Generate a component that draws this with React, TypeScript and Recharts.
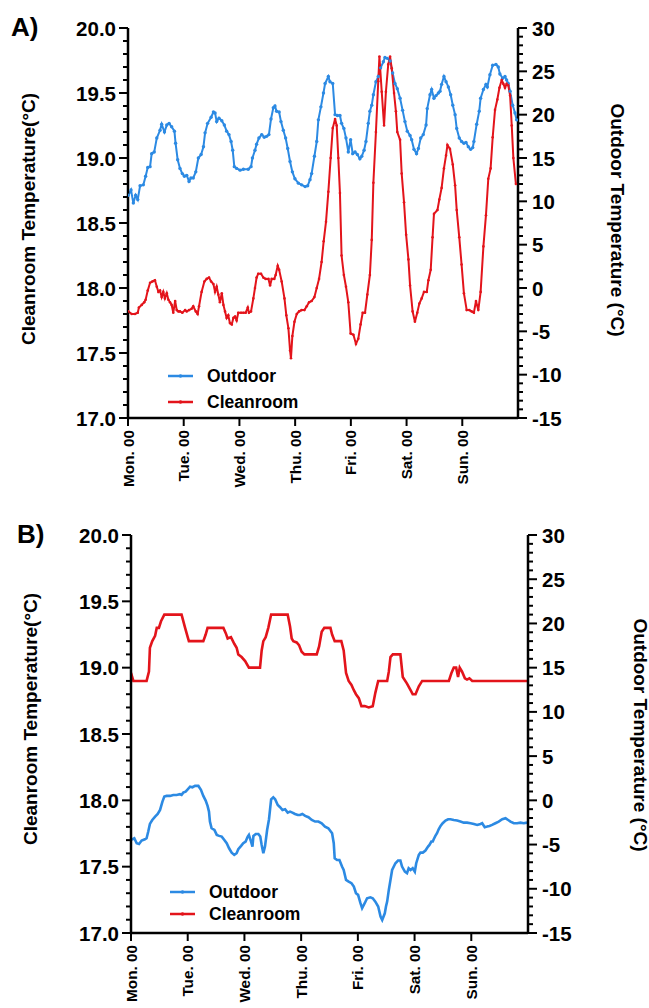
import React from 'react';
import { LineChart, Line, XAxis, YAxis } from 'recharts';

// ---------- data ----------
const dayTicks = [0, 24, 48, 72, 96, 120, 144];
const dayLabels = ['Mon. 00', 'Tue. 00', 'Wed. 00', 'Thu. 00', 'Fri. 00', 'Sat. 00', 'Sun. 00'];
const leftTicks = Array.from({ length: 31 }, (_, i) => Math.round((17 + i * 0.1) * 10) / 10);
const rightTicks = Array.from({ length: 46 }, (_, i) => -15 + i);

// Panel A: [hour, °C]
const outdoorA: [number, number][] = [[0.1,10.7],[1.3,11.3],[2.3,9.8],[3.3,10.7],[4.2,10.2],[5.2,11.8],[6.6,11.9],[7.6,12.9],[8.5,13.9],[9.5,14.0],[10.2,15.5],[11.3,15.7],[12.4,17.3],[13.8,18.2],[14.5,18.9],[15.7,18.0],[16.7,18.8],[17.7,19.0],[18.8,18.6],[20.0,18.1],[20.5,16.7],[21.4,14.8],[22.4,13.8],[23.4,13.2],[24.3,12.9],[25.3,13.0],[26.3,12.3],[27.1,12.7],[28.1,12.7],[29.2,13.4],[30.3,15.0],[31.5,15.4],[32.5,16.3],[33.2,17.9],[34.3,19.0],[35.8,19.7],[36.8,20.3],[37.5,20.2],[38.2,19.2],[39.2,19.6],[40.4,19.3],[41.5,18.8],[42.5,18.1],[43.5,17.7],[44.4,16.9],[45.1,15.9],[45.8,14.0],[46.8,13.8],[48.3,13.6],[49.7,13.7],[51.8,13.7],[53.0,14.0],[53.6,15.0],[54.7,15.9],[55.4,16.6],[56.4,17.3],[57.6,17.7],[58.7,17.4],[59.7,17.5],[60.7,17.7],[61.6,19.5],[62.6,20.8],[63.3,21.0],[64.0,20.4],[65.1,20.3],[65.9,19.2],[66.9,18.2],[67.9,17.3],[68.8,16.1],[69.8,14.6],[70.8,13.4],[71.9,12.6],[73.4,12.1],[74.8,11.9],[76.3,11.7],[77.4,11.8],[78.4,12.5],[79.1,13.2],[80.3,15.2],[81.3,16.9],[82.0,19.4],[83.1,20.9],[84.2,22.5],[84.9,23.6],[86.3,24.4],[87.0,23.8],[88.2,23.6],[89.2,20.0],[90.2,19.9],[91.3,19.9],[92.0,19.0],[93.0,18.4],[93.9,17.3],[94.9,15.7],[95.9,17.1],[96.8,15.5],[97.8,15.7],[98.8,15.4],[99.9,14.9],[100.7,15.2],[101.7,15.9],[102.5,16.9],[103.5,19.0],[104.2,20.4],[105.0,21.1],[105.7,22.3],[106.8,23.8],[107.8,24.4],[108.8,25.4],[110.0,26.1],[110.7,26.6],[111.7,26.5],[112.9,26.2],[114.0,24.8],[115.0,23.6],[116.0,23.0],[117.2,21.9],[118.3,20.5],[119.3,19.2],[120.3,18.1],[121.5,17.6],[122.2,17.1],[123.2,16.0],[124.3,15.5],[125.1,16.1],[126.1,17.3],[127.2,17.7],[128.4,18.8],[128.9,20.7],[130.1,22.3],[130.8,22.9],[131.8,21.9],[132.7,22.2],[133.7,22.5],[134.4,22.7],[135.1,23.5],[136.1,24.4],[137.0,23.8],[138.0,23.2],[139.0,22.3],[139.9,21.1],[140.9,20.0],[141.6,18.4],[142.7,17.3],[143.7,16.9],[144.7,16.7],[145.6,16.8],[146.6,16.3],[147.6,16.0],[148.5,16.2],[149.0,16.9],[150.2,18.9],[151.3,20.4],[151.9,21.9],[153.1,22.9],[154.2,23.5],[154.8,23.2],[155.9,24.6],[157.1,25.7],[158.5,25.8],[159.5,25.5],[160.2,24.7],[161.4,24.2],[162.4,24.4],[163.1,24.0],[163.8,23.6],[164.6,22.7],[165.7,21.1],[166.7,20.2],[167.4,19.4]];

const cleanroomA: [number, number][] = [[0.1,17.82],[1.6,17.80],[3.0,17.80],[4.2,17.81],[4.7,17.85],[5.9,17.87],[7.0,17.89],[7.6,17.91],[8.5,17.98],[9.5,18.04],[10.5,18.05],[11.6,18.06],[12.4,18.01],[13.1,17.97],[13.8,17.98],[14.5,17.93],[15.2,17.97],[15.9,17.92],[16.7,17.96],[17.4,17.91],[18.1,17.89],[18.8,17.87],[19.5,17.81],[20.3,17.90],[21.0,17.83],[21.7,17.82],[22.4,17.82],[23.4,17.81],[24.6,17.83],[25.3,17.82],[26.3,17.83],[27.4,17.84],[28.1,17.86],[29.2,17.82],[30.0,17.80],[30.6,17.86],[31.7,17.97],[32.9,18.05],[33.9,18.07],[34.9,18.08],[35.8,18.05],[36.8,18.03],[37.5,17.97],[38.2,18.01],[38.9,17.95],[39.6,17.89],[40.4,17.96],[41.1,17.87],[41.8,17.82],[42.5,17.77],[43.2,17.79],[43.9,17.73],[44.7,17.72],[45.4,17.77],[46.1,17.78],[46.8,17.75],[47.5,17.81],[48.7,17.81],[49.7,17.81],[50.7,17.81],[51.6,17.85],[52.1,17.81],[53.0,17.82],[54.0,17.92],[54.7,18.00],[55.4,18.08],[56.1,18.11],[57.3,18.11],[58.3,18.08],[59.3,18.07],[60.5,18.07],[61.2,18.02],[61.9,18.07],[63.0,18.07],[63.6,18.10],[64.5,18.17],[65.1,18.14],[66.2,18.05],[67.4,17.92],[68.2,17.79],[69.1,17.69],[69.8,17.52],[70.2,17.46],[70.8,17.63],[71.7,17.74],[72.7,17.80],[73.7,17.82],[74.8,17.83],[76.0,17.83],[77.0,17.86],[78.0,17.89],[79.1,17.90],[80.3,17.93],[81.3,18.00],[82.3,18.07],[83.4,18.20],[84.3,18.36],[85.3,18.51],[86.3,18.74],[87.3,19.00],[88.2,19.23],[89.2,19.30],[89.9,19.25],[90.6,19.00],[91.3,18.73],[92.0,18.25],[93.0,18.10],[93.9,18.01],[94.9,17.89],[95.9,17.65],[97.1,17.64],[98.2,17.57],[99.2,17.61],[100.2,17.72],[101.1,17.81],[102.1,17.81],[103.1,17.95],[104.2,18.10],[105.0,18.37],[105.7,18.81],[106.8,19.20],[107.8,19.59],[108.3,19.78],[109.3,19.51],[110.3,19.25],[111.1,19.51],[112.1,19.72],[112.9,19.78],[113.6,19.69],[114.6,19.50],[115.4,19.36],[116.0,19.20],[117.2,19.14],[117.9,18.88],[118.9,18.66],[119.8,18.41],[120.8,18.22],[121.5,18.02],[122.6,17.82],[123.6,17.74],[124.6,17.81],[125.5,17.88],[126.5,17.92],[127.5,17.97],[128.7,17.97],[129.4,18.06],[130.4,18.14],[131.2,18.39],[131.8,18.57],[133.3,18.60],[134.1,18.68],[135.1,18.77],[136.1,18.92],[137.0,19.02],[137.6,19.10],[138.7,19.07],[139.9,18.95],[140.9,18.79],[141.6,18.60],[142.7,18.39],[143.7,18.18],[144.7,17.96],[145.9,17.83],[147.0,17.83],[148.0,17.82],[149.0,17.81],[149.9,17.90],[150.9,17.83],[151.9,17.97],[153.1,18.32],[154.2,18.56],[155.2,18.84],[156.2,18.92],[157.1,19.16],[158.1,19.37],[159.1,19.45],[160.0,19.54],[161.0,19.60],[161.7,19.57],[162.4,19.54],[163.1,19.57],[163.8,19.56],[164.6,19.48],[165.3,19.25],[166.0,19.00],[167.1,18.80]];

// Panel B: [hour, °C]
const cleanroomB: [number, number][] = [[0,18.96],[1.0,18.9],[6.6,18.9],[7.6,18.97],[8.0,19.15],[9.0,19.2],[10.2,19.24],[10.9,19.3],[11.8,19.3],[12.7,19.35],[14.1,19.4],[21.4,19.4],[22.9,19.3],[24.0,19.23],[24.5,19.2],[30.6,19.2],[31.6,19.25],[32.4,19.3],[39.1,19.3],[40.1,19.26],[40.9,19.22],[42.3,19.23],[43.7,19.18],[44.7,19.15],[45.4,19.1],[46.8,19.08],[48.3,19.05],[49.9,19.0],[54.6,19.0],[55.3,19.13],[56.0,19.2],[57.0,19.23],[58.1,19.3],[59.3,19.4],[66.3,19.4],[67.3,19.31],[68.0,19.22],[68.7,19.2],[70.1,19.19],[71.1,19.17],[72.2,19.12],[73.4,19.1],[78.6,19.1],[79.6,19.16],[80.7,19.27],[81.8,19.3],[84.4,19.3],[85.1,19.25],[86.2,19.2],[89.0,19.2],[90.0,19.13],[91.0,18.96],[92.1,18.9],[93.3,18.87],[94.3,18.83],[95.2,18.8],[96.4,18.77],[97.5,18.71],[98.9,18.71],[100.6,18.7],[102.3,18.71],[103.4,18.81],[104.6,18.9],[108.4,18.9],[109.1,18.97],[109.8,19.08],[110.8,19.1],[114.0,19.1],[115.0,18.93],[116.8,18.88],[118.3,18.83],[119.2,18.8],[120.4,18.8],[121.8,18.86],[123.2,18.9],[134.5,18.9],[135.6,18.96],[136.6,19.0],[137.6,19.0],[138.4,18.93],[139.1,19.0],[140.1,18.97],[141.3,18.92],[142.2,18.91],[143.2,18.92],[144.4,18.9],[168,18.9]];

const outdoorB: [number, number][] = [[0,-4.48],[1.4,-4.29],[2.4,-4.85],[3.4,-4.93],[4.5,-4.55],[5.9,-4.40],[6.6,-4.29],[7.3,-3.53],[8.0,-2.67],[9.0,-2.22],[10.2,-1.84],[11.3,-1.54],[12.3,-1.09],[13.3,-0.14],[14.1,0.42],[15.1,0.50],[16.5,0.50],[17.9,0.61],[19.3,0.61],[20.7,0.69],[21.4,0.61],[22.1,0.87],[23.1,0.99],[24.0,1.25],[25.0,1.55],[26.0,1.48],[27.1,1.63],[28.5,1.63],[29.6,1.18],[30.6,0.50],[31.6,-0.03],[32.4,-0.63],[33.0,-1.27],[33.4,-2.40],[34.1,-3.16],[35.3,-3.35],[36.3,-3.91],[37.3,-4.02],[38.4,-4.10],[39.5,-4.48],[40.5,-4.85],[41.5,-5.42],[42.6,-5.91],[43.7,-6.17],[44.7,-5.98],[45.4,-5.53],[46.6,-5.15],[47.5,-4.85],[48.5,-4.66],[49.4,-4.10],[49.9,-3.91],[50.8,-4.66],[51.4,-5.23],[51.8,-4.02],[52.8,-3.80],[53.9,-3.80],[54.7,-4.10],[55.3,-5.04],[56.0,-5.98],[56.7,-5.23],[57.6,-3.35],[58.4,-2.14],[59.3,0.12],[60.2,0.35],[61.0,0.12],[62.1,-0.52],[63.1,-0.78],[64.1,-1.09],[65.2,-1.01],[66.3,-1.39],[67.3,-1.27],[68.3,-1.39],[69.4,-1.54],[70.6,-1.65],[71.5,-1.65],[72.5,-1.54],[73.7,-1.76],[75.1,-1.91],[76.5,-2.22],[77.9,-2.40],[79.3,-2.40],[80.7,-2.59],[82.1,-2.97],[83.5,-3.16],[85.1,-3.72],[85.8,-4.85],[86.2,-6.55],[87.2,-6.74],[88.2,-6.74],[89.3,-7.49],[90.0,-7.87],[91.0,-9.00],[92.1,-9.19],[93.3,-9.37],[94.3,-9.75],[95.2,-10.50],[96.1,-10.69],[97.1,-11.63],[97.8,-12.20],[98.9,-11.63],[99.9,-11.07],[101.3,-10.96],[102.3,-11.07],[103.4,-11.45],[104.6,-12.01],[105.6,-13.14],[106.3,-13.52],[107.4,-12.77],[107.9,-12.01],[108.4,-11.45],[109.1,-10.13],[109.8,-9.00],[110.5,-7.87],[111.9,-7.11],[113.0,-6.81],[114.0,-6.81],[114.7,-7.49],[115.9,-8.06],[116.8,-8.24],[117.5,-7.68],[118.3,-7.87],[119.2,-7.68],[120.1,-8.06],[120.7,-7.11],[121.8,-6.17],[122.5,-5.91],[123.5,-5.91],[124.6,-5.68],[125.7,-5.23],[126.3,-5.04],[127.1,-4.66],[127.7,-4.66],[128.1,-4.40],[128.8,-4.02],[129.5,-3.72],[130.2,-3.27],[131.0,-2.89],[131.9,-2.59],[133.1,-2.29],[134.2,-2.14],[135.2,-2.14],[136.6,-2.22],[138.0,-2.29],[139.4,-2.40],[140.8,-2.52],[142.2,-2.52],[143.7,-2.59],[145.1,-2.67],[146.5,-2.78],[147.9,-2.67],[148.6,-2.59],[149.7,-3.04],[150.7,-2.97],[151.7,-2.89],[152.8,-2.78],[154.2,-2.59],[155.6,-2.40],[157.1,-2.14],[158.5,-2.03],[159.6,-2.22],[160.6,-2.40],[162.0,-2.59],[163.4,-2.59],[164.8,-2.52],[166.2,-2.59],[167.6,-2.52]];

const toRows = (arr: [number, number][]) => arr.map(([h, v]) => ({ h, v }));

// ---------- styles ----------
const FONT = "Arial, 'Liberation Sans', Helvetica, sans-serif";
const BLUE = '#2c8ae3';
const RED = '#e3141b';
const TICK_FS = 20.5;
const XTICK_FS = 15.3;
const TITLE_FS = 19;

const isMajor = (v: number, step: number) => Math.abs(v / step - Math.round(v / step)) < 1e-6;

const LeftTick = (props: any) => {
  const { x, y, payload } = props;
  const v = payload.value as number;
  const major = isMajor(v, 0.5);
  return (
    <g>
      <line x1={x} x2={x - (major ? 9 : 5)} y1={y} y2={y} stroke="#000" strokeWidth={2} />
      {major && (
        <text x={x - 12} y={y} textAnchor="end" dominantBaseline="central" fontFamily={FONT} fontWeight="bold" fontSize={TICK_FS} fill="#000">
          {v.toFixed(1)}
        </text>
      )}
    </g>
  );
};

const RightTick = (props: any) => {
  const { x, y, payload } = props;
  const v = payload.value as number;
  const major = isMajor(v, 5);
  return (
    <g>
      <line x1={x} x2={x + (major ? 9 : 5)} y1={y} y2={y} stroke="#000" strokeWidth={2} />
      {major && (
        <text x={x + 14} y={y} textAnchor="start" dominantBaseline="central" fontFamily={FONT} fontWeight="bold" fontSize={TICK_FS} fill="#000">
          {String(v)}
        </text>
      )}
    </g>
  );
};

const BottomTick = (props: any) => {
  const { x, y, payload } = props;
  const idx = dayTicks.indexOf(payload.value);
  const label = idx >= 0 ? dayLabels[idx] : '';
  return (
    <g>
      <line x1={x} x2={x} y1={y} y2={y + 8} stroke="#000" strokeWidth={2} />
      <text x={x} y={y + 12} transform={`rotate(-90 ${x} ${y + 12})`} textAnchor="end" dominantBaseline="central" fontFamily={FONT} fontWeight="bold" fontSize={XTICK_FS} fill="#000">
        {label}
      </text>
    </g>
  );
};

type PanelProps = {
  width: number;
  height: number;
  top: number;
  leftW: number;
  rightW: number;
  xH: number;
  outdoor: [number, number][];
  cleanroom: [number, number][];
  dots: boolean;
  lineW: number;
};

const Panel = ({ width, height, top, leftW, rightW, xH, outdoor, cleanroom, dots, lineW }: PanelProps) => (
  <LineChart width={width} height={height} margin={{ top, right: 0, bottom: 0, left: 0 }}>
    <XAxis
      dataKey="h"
      type="number"
      domain={[0, 168]}
      ticks={dayTicks}
      interval={0}
      height={xH}
      tickSize={0}
      tickMargin={0}
      tickLine={false}
      axisLine={{ stroke: '#000', strokeWidth: 2.5 }}
      tick={<BottomTick />}
      allowDataOverflow
    />
    <YAxis
      yAxisId="left"
      orientation="left"
      width={leftW}
      domain={[17, 20]}
      ticks={leftTicks}
      interval={0}
      tickSize={0}
      tickMargin={0}
      tickLine={false}
      axisLine={{ stroke: '#000', strokeWidth: 2.5 }}
      tick={<LeftTick />}
      allowDataOverflow
    />
    <YAxis
      yAxisId="right"
      orientation="right"
      width={rightW}
      domain={[-15, 30]}
      ticks={rightTicks}
      interval={0}
      tickSize={0}
      tickMargin={0}
      tickLine={false}
      axisLine={{ stroke: '#000', strokeWidth: 2.5 }}
      tick={<RightTick />}
      allowDataOverflow
    />
    <Line
      yAxisId="right"
      data={toRows(outdoor)}
      dataKey="v"
      name="Outdoor"
      type="linear"
      stroke={BLUE}
      strokeWidth={lineW}
      dot={dots ? { r: 1.7, fill: BLUE, stroke: BLUE, strokeWidth: 0 } : false}
      activeDot={false}
      isAnimationActive={false}
    />
    <Line
      yAxisId="left"
      data={toRows(cleanroom)}
      dataKey="v"
      name="Cleanroom"
      type="linear"
      stroke={RED}
      strokeWidth={lineW}
      dot={dots ? { r: 1.3, fill: RED, stroke: RED, strokeWidth: 0 } : false}
      activeDot={false}
      isAnimationActive={false}
    />
  </LineChart>
);

const LegendRow = ({ x, y, color, label }: { x: number; y: number; color: string; label: string }) => (
  <g>
    <line x1={x} x2={x + 25} y1={y} y2={y} stroke={color} strokeWidth={2.5} />
    <circle cx={x + 12.5} cy={y} r={1.8} fill={color} />
    <text x={x + 39} y={y + 6.3} fontFamily={FONT} fontWeight="bold" fontSize={17.5} fill="#000">
      {label}
    </text>
  </g>
);

export default function App() {
  return (
    <div style={{ position: 'absolute', left: 0, top: 0, width: 649, height: 1008, background: '#fff' }}>
      <div style={{ position: 'absolute', left: 0, top: 0 }}>
        <Panel width={649} height={500} top={28} leftW={128} rightW={131} xH={82} outdoor={outdoorA} cleanroom={cleanroomA} dots lineW={2} />
      </div>
      <div style={{ position: 'absolute', left: 0, top: 500 }}>
        <Panel width={649} height={508} top={35} leftW={131} rightW={121} xH={75} outdoor={outdoorB} cleanroom={cleanroomB} dots={false} lineW={2.6} />
      </div>
      <svg width={649} height={1008} style={{ position: 'absolute', left: 0, top: 0, pointerEvents: 'none' }}>
        <text x={11} y={36} fontFamily={FONT} fontWeight="bold" fontSize={26} fill="#000">A)</text>
        <text x={17} y={543} fontFamily={FONT} fontWeight="bold" fontSize={26} fill="#000">B)</text>

        <text x={28} y={219} transform="rotate(-90 28 219)" textAnchor="middle" dominantBaseline="central" fontFamily={FONT} fontWeight="bold" fontSize={TITLE_FS} fill="#000">
          Cleanroom Temperature(°C)
        </text>
        <text x={617} y={220} transform="rotate(90 617 220)" textAnchor="middle" dominantBaseline="central" fontFamily={FONT} fontWeight="bold" fontSize={TITLE_FS} fill="#000">
          Outdoor Temperature (°C)
        </text>
        <text x={30} y={719} transform="rotate(-90 30 719)" textAnchor="middle" dominantBaseline="central" fontFamily={FONT} fontWeight="bold" fontSize={TITLE_FS} fill="#000">
          Cleanroom Temperature(°C)
        </text>
        <text x={640} y={735} transform="rotate(90 640 735)" textAnchor="middle" dominantBaseline="central" fontFamily={FONT} fontWeight="bold" fontSize={TITLE_FS} fill="#000">
          Outdoor Temperature (°C)
        </text>

        <LegendRow x={168} y={376} color={BLUE} label="Outdoor" />
        <LegendRow x={168} y={402} color={RED} label="Cleanroom" />
        <LegendRow x={170} y={892} color={BLUE} label="Outdoor" />
        <LegendRow x={170} y={914} color={RED} label="Cleanroom" />
      </svg>
    </div>
  );
}
